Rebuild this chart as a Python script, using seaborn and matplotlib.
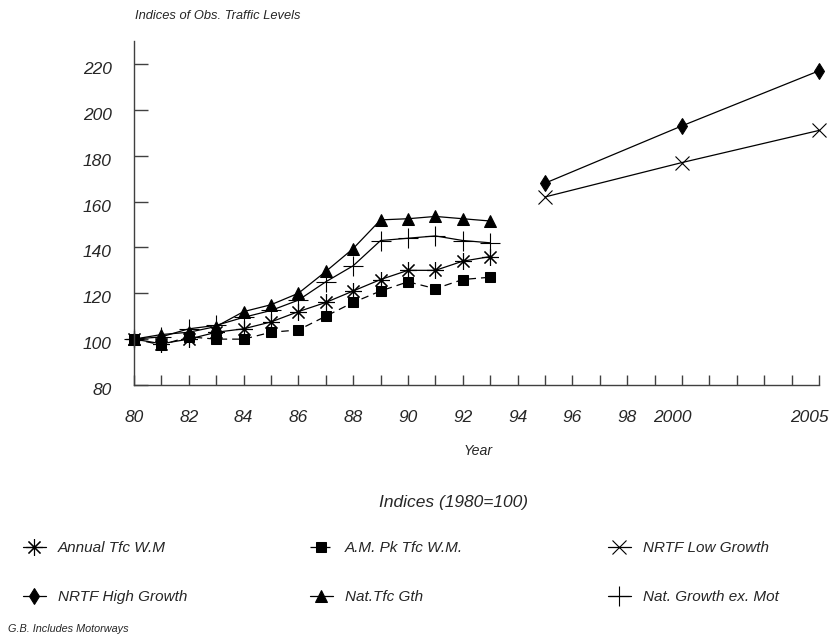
import numpy as np
import pandas as pd
import seaborn as sns
import matplotlib.pyplot as plt
from matplotlib import transforms

# observed series 1980-1993
years_obs = [1980, 1981, 1982, 1983, 1984, 1985, 1986, 1987, 1988, 1989, 1990, 1991, 1992, 1993]
annual_tfc = [100, 98, 100, 103, 104.5, 107.5, 112, 116, 121, 126, 130, 130, 134, 136]
am_pk_tfc = [100, 97.5, 101, 100, 100, 103, 104, 110, 116, 121, 125, 122, 126, 127]
nat_tfc_gth = [100, 102, 103, 105.5, 112, 115, 120, 129.5, 139.5, 152, 152.5, 153.5, 152.5, 151.5]
nat_ex_mot = [100, 101, 104.5, 106, 109.5, 112.5, 117, 125, 132, 143, 144, 145, 143, 142]

# forecasts
years_fc = [1995, 2000, 2005]
nrtf_high = [168, 193, 217]
nrtf_low = [162, 177, 191]

xtick_years = list(range(1980, 2006))
xtick_text = {1980: "80", 1982: "82", 1984: "84", 1986: "86", 1988: "88", 1990: "90",
              1992: "92", 1994: "94", 1996: "96", 1998: "98", 2000: "2000", 2005: "2005"}
yticks = [80, 100, 120, 140, 160, 180, 200, 220]

sns.set_style("white")
plt.rcParams['font.family'] = ['Liberation Sans', 'DejaVu Sans']
plt.rcParams['font.style'] = 'italic'

fig = plt.figure(figsize=(8.32, 6.41), dpi=100)
ax = fig.add_axes([134 / 832, 1 - 385 / 641, 685 / 832, 344 / 641])

lw = 0.9
series = [
    ("Annual Tfc W.M", years_obs, annual_tfc, dict(marker=(8, 2, 0), markersize=12, mew=0.8)),
    ("A.M. Pk Tfc W.M.", years_obs, am_pk_tfc, dict(marker='s', markersize=6.5, linestyle=(0, (6, 4)))),
    ("NRTF Low Growth", years_fc, nrtf_low, dict(marker='x', markersize=10, mew=0.8)),
    ("NRTF High Growth", years_fc, nrtf_high, dict(marker='d', markersize=8)),
    ("Nat.Tfc Gth", years_obs, nat_tfc_gth, dict(marker='^', markersize=9)),
    ("Nat. Growth ex. Mot", years_obs, nat_ex_mot, dict(marker='+', markersize=14, mew=0.8)),
]

handles = {}
for name, xs, ys, kw in series:
    df = pd.DataFrame({"year": xs, "value": ys})
    sns.lineplot(data=df, x="year", y="value", ax=ax, color="black", linewidth=lw,
                 markeredgecolor="black", markerfacecolor="black", label=name,
                 clip_on=False, **kw)
    handles[name] = ax.get_lines()[-1]

if ax.get_legend() is not None:
    ax.get_legend().remove()

ax.set_xlim(1980, 2005)
ax.set_ylim(80, 230)
ax.set_xlabel("")
ax.set_ylabel("")
ax.set_xticks(xtick_years)
ax.set_xticklabels([xtick_text.get(y, "") for y in xtick_years], fontsize=12.5)
ax.set_yticks(yticks)
ax.set_yticklabels([str(v) for v in yticks], fontsize=12.5)

sns.despine(ax=ax)
for s in ["left", "bottom"]:
    ax.spines[s].set_color("#404040")
    ax.spines[s].set_linewidth(1.0)
ax.tick_params(axis="x", bottom=True, direction="in", length=7, width=1.0, color="#404040", pad=18)
ax.tick_params(axis="y", left=True, direction="in", length=10, width=1.0, color="#404040", pad=16)

# nudge tick labels a bit like the original
down = transforms.ScaledTranslation(0, -4 / 100, fig.dpi_scale_trans)
for lab in ax.get_yticklabels():
    lab.set_transform(lab.get_transform() + down)
left = transforms.ScaledTranslation(-10 / 100, 0, fig.dpi_scale_trans)
for lab in ax.get_xticklabels():
    if len(lab.get_text()) == 4:
        lab.set_transform(lab.get_transform() + left)

fig.text(135 / 832, 1 - 16 / 641, "Indices of Obs. Traffic Levels", fontsize=9.3, va="center", ha="left")
fig.text(478 / 832, 1 - 451 / 641, "Year", fontsize=10.2, va="center", ha="center")
fig.text(454 / 832, 1 - 503 / 641, "Indices (1980=100)", fontsize=12.5, va="center", ha="center")
fig.text(8 / 832, 1 - 629 / 641, "G.B. Includes Motorways", fontsize=7.8, va="center", ha="left")

# legend, 2 rows x 3 columns
legend_pos = {
    "Annual Tfc W.M": (23, 548), "A.M. Pk Tfc W.M.": (310, 548), "NRTF Low Growth": (608, 548),
    "NRTF High Growth": (23, 597), "Nat.Tfc Gth": (310, 597), "Nat. Growth ex. Mot": (608, 597),
}
for name, (px, py) in legend_pos.items():
    fig.legend([handles[name]], [name], loc="center left",
               bbox_to_anchor=(px / 832, 1 - py / 641), frameon=False,
               borderpad=0, borderaxespad=0, handlelength=1.5, handletextpad=0.8,
               fontsize=11)

fig.savefig("out.png", dpi=100)
